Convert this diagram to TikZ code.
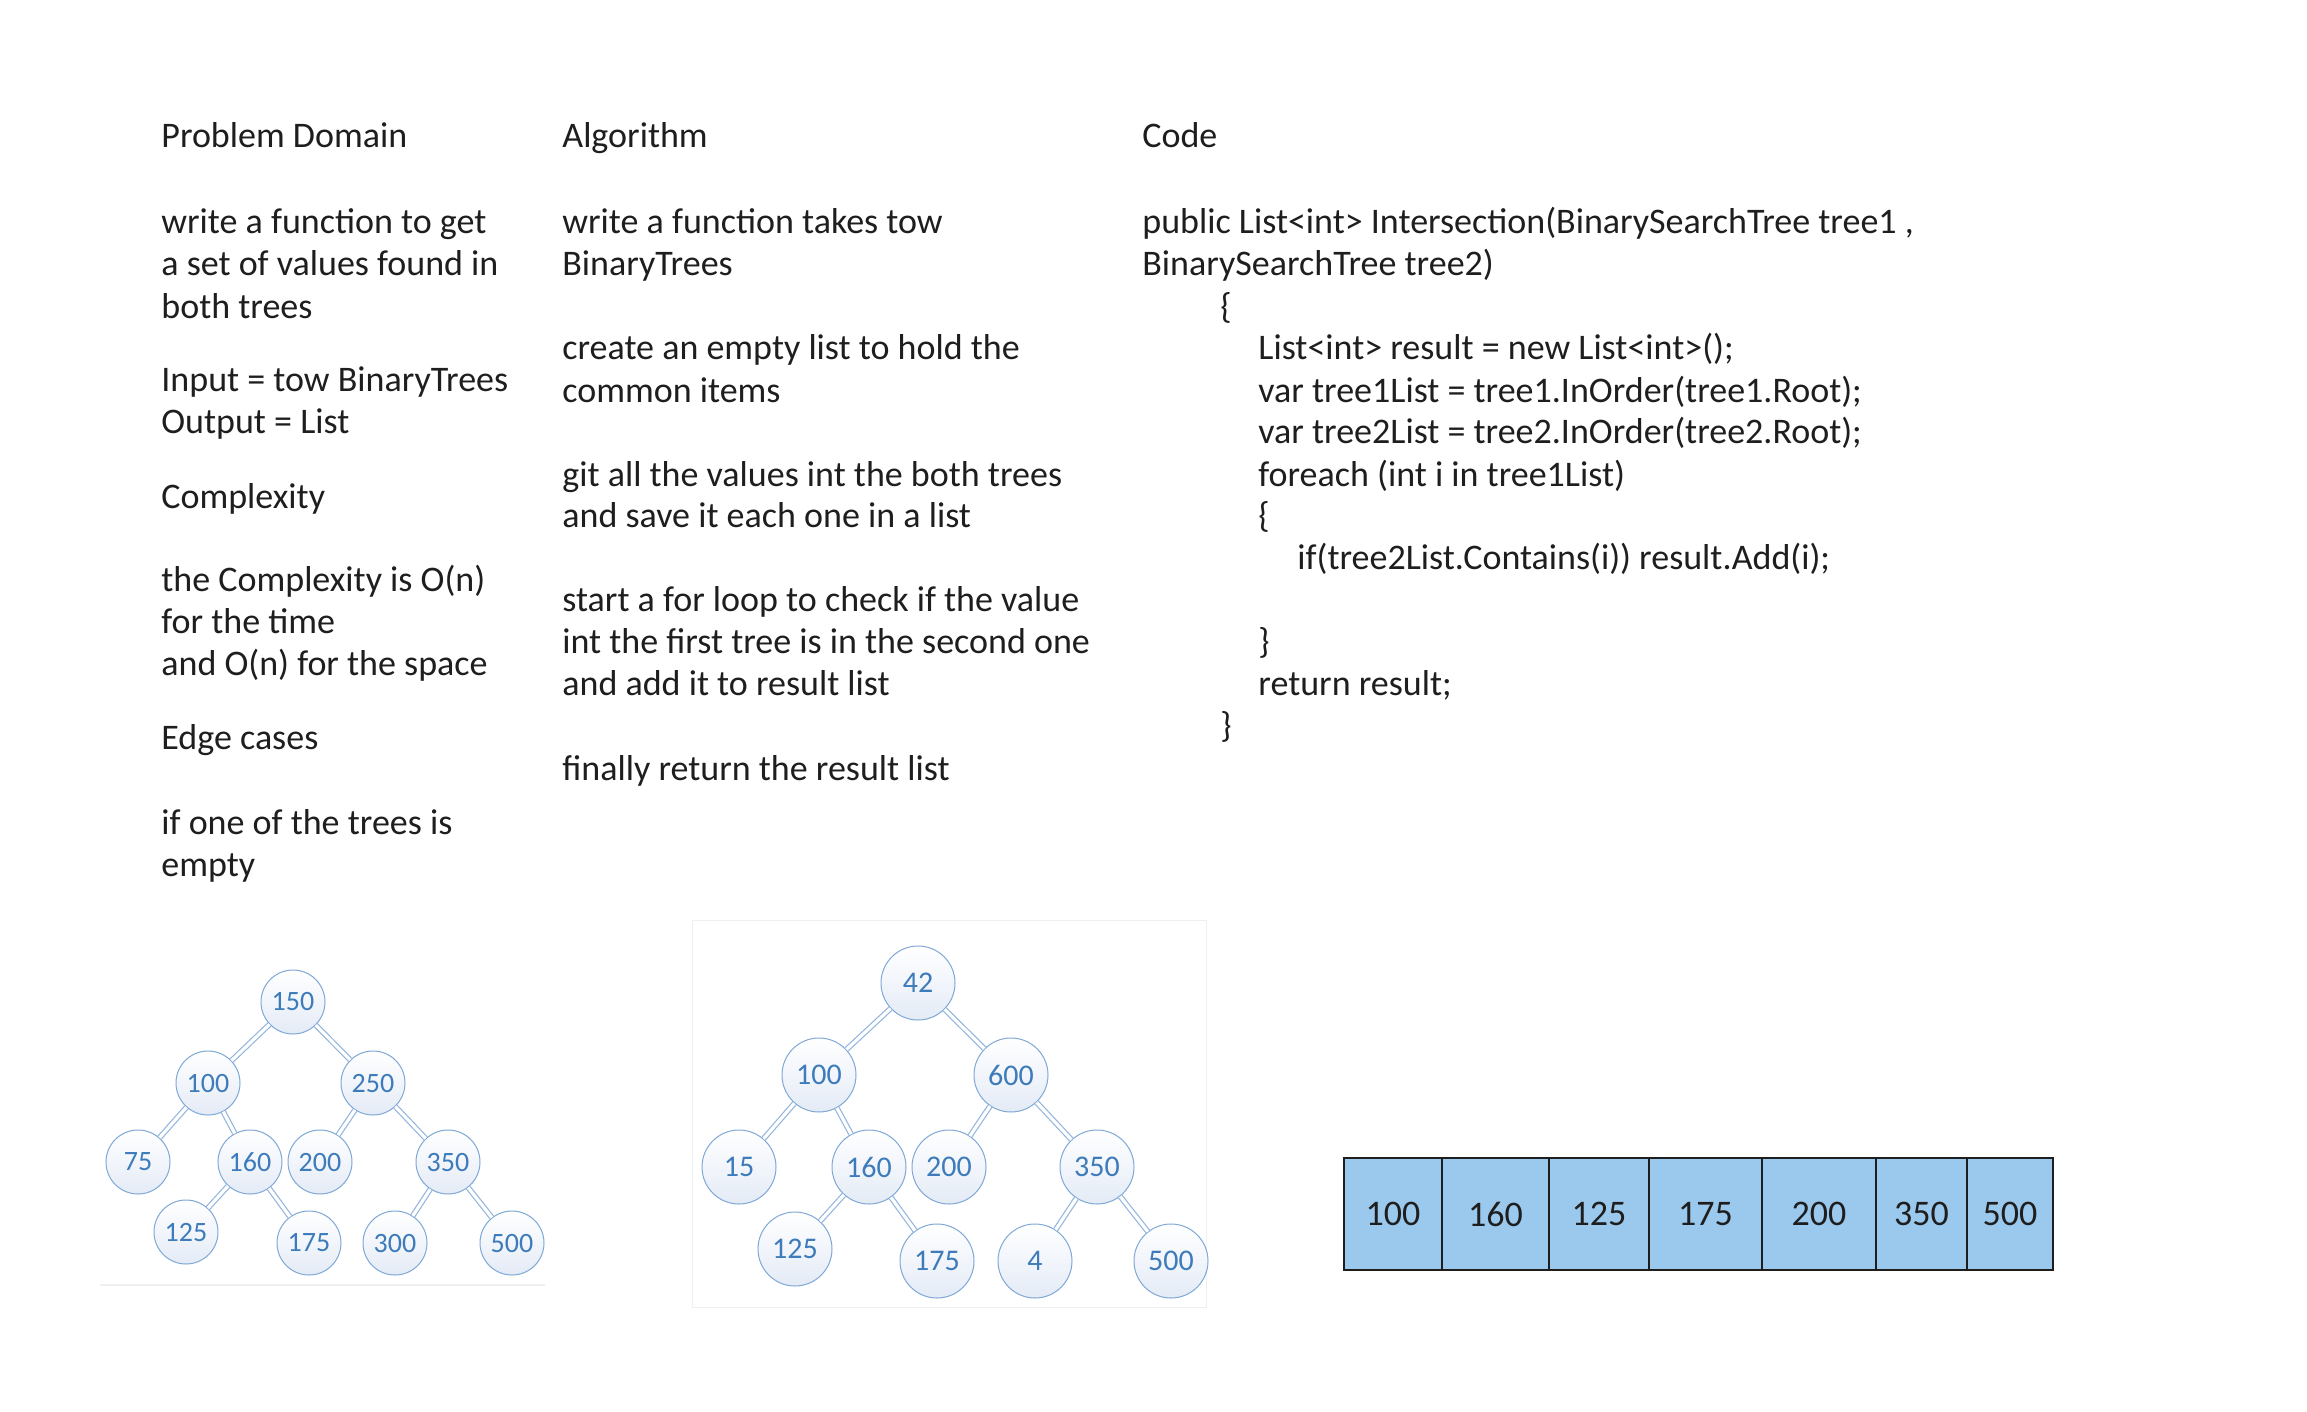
\documentclass[tikz,border=0pt]{standalone}
\usepackage{fontspec}
\setmainfont{Carlito}
\definecolor{nodeblue}{HTML}{3D7BBA}
\definecolor{ringblue}{HTML}{7FA8D6}
\definecolor{edgeblue}{HTML}{94B6DE}
\definecolor{shadeblue}{HTML}{E4EBF6}
\definecolor{cellblue}{HTML}{9BC9EE}
\definecolor{ink}{HTML}{1E1E1E}
\definecolor{faint}{HTML}{EFEFEF}
\begin{document}
\begin{tikzpicture}[x=0.5pt,y=-0.5pt,
  txt/.style={anchor=base west, inner sep=0pt, text=ink, font=\fontsize{18}{21}\selectfont},
  bnode/.style={circle, draw=ringblue, line width=0.5pt, top color=white, bottom color=shadeblue,
    text=nodeblue, inner sep=0pt, minimum size=32pt, font=\fontsize{14}{16}\selectfont},
  bnodeL/.style={bnode, minimum size=37pt, font=\fontsize{15}{17}\selectfont},
  bedge/.style={draw=edgeblue, line width=0.6pt, double=white, double distance=1.6pt},
  cell/.style={draw=ink, line width=1pt, fill=cellblue, inner sep=0pt, minimum height=56pt,
    text=ink, font=\fontsize{18}{20}\selectfont}]
\useasboundingbox[fill=white] (0,0) rectangle (2307,1412);

% ---------- Problem Domain column ----------
\node[txt] (p1)  at (161,148) {Problem Domain};
\node[txt] (p2)  at (161,234) {write a function to get};
\node[txt] (p3)  at (161,276) {a set of values found in};
\node[txt] (p4)  at (161,318) {both trees};
\node[txt] (p5)  at (161,391) {Input = tow BinaryTrees};
\node[txt] (p6)  at (161,433) {Output = List};
\node[txt] (p7)  at (161,508) {Complexity};
\node[txt] (p8)  at (161,591) {the Complexity is O(n)};
\node[txt] (p9)  at (161,633) {for the time};
\node[txt] (p10) at (161,675) {and O(n) for the space};
\node[txt] (p11) at (161,749) {Edge cases};
\node[txt] (p12) at (161,834) {if one of the trees is};
\node[txt] (p13) at (161,876) {empty};

% ---------- Algorithm column ----------
\node[txt] (a1)  at (562,148) {Algorithm};
\node[txt] (a2)  at (562,234) {write a function takes tow};
\node[txt] (a3)  at (562,276) {BinaryTrees};
\node[txt] (a4)  at (562,359) {create an empty list to hold the};
\node[txt] (a5)  at (562,402) {common items};
\node[txt] (a6)  at (562,486) {git all the values int the both trees};
\node[txt] (a7)  at (562,527) {and save it each one in a list};
\node[txt] (a8)  at (562,611) {start a for loop to check if the value};
\node[txt] (a9)  at (562,653) {int the first tree is in the second one};
\node[txt] (a10) at (562,695) {and add it to result list};
\node[txt] (a11) at (562,780) {finally return the result list};

% ---------- Code column ----------
\node[txt] (c1)  at (1142,148) {Code};
\node[txt] (c2)  at (1142,234) {public List<int> Intersection(BinarySearchTree tree1 ,};
\node[txt] (c3)  at (1142,276) {BinarySearchTree tree2)};
\node[txt] (c4)  at (1220,318) {\{};
\node[txt] (c5)  at (1258,359) {List<int> result = new List<int>();};
\node[txt] (c6)  at (1258,402) {var tree1List = tree1.InOrder(tree1.Root);};
\node[txt] (c7)  at (1258,443) {var tree2List = tree2.InOrder(tree2.Root);};
\node[txt] (c8)  at (1258,486) {foreach (int i in tree1List)};
\node[txt] (c9)  at (1258,527) {\{};
\node[txt] (c10) at (1297,569) {if(tree2List.Contains(i)) result.Add(i);};
\node[txt] (c11) at (1258,653) {\}};
\node[txt] (c12) at (1258,695) {return result;};
\node[txt] (c13) at (1220,737) {\}};

% ---------- Tree 1 ----------
\draw[faint, line width=0.6pt] (100,1285) -- (545,1285);
\node[bnode] (u150) at (293,1002) {150};
\node[bnode] (u100) at (208,1083) {100};
\node[bnode] (u250) at (373,1083) {250};
\node[bnode] (u75)  at (138,1162) {75};
\node[bnode] (u160) at (250,1162) {160};
\node[bnode] (u200) at (320,1162) {200};
\node[bnode] (u350) at (448,1162) {350};
\node[bnode] (u125) at (186,1232) {125};
\node[bnode] (u175) at (309,1243) {175};
\node[bnode] (u300) at (395,1243) {300};
\node[bnode] (u500) at (512,1243) {500};
\foreach \a/\b in {u150/u100,u150/u250,u100/u75,u100/u160,u250/u200,u250/u350,
                   u160/u125,u160/u175,u350/u300,u350/u500}
  \draw[bedge] (\a) -- (\b);

% ---------- Tree 2 ----------
\draw[faint, line width=0.5pt] (692,920) rectangle (1206,1307);
\node[bnodeL] (v42)  at (918,983)   {42};
\node[bnodeL] (v100) at (819,1075)  {100};
\node[bnodeL] (v600) at (1011,1075) {600};
\node[bnodeL] (v15)  at (739,1167)  {15};
\node[bnodeL] (v160) at (869,1167)  {160};
\node[bnodeL] (v200) at (949,1167)  {200};
\node[bnodeL] (v350) at (1097,1167) {350};
\node[bnodeL] (v125) at (795,1249)  {125};
\node[bnodeL] (v175) at (937,1261)  {175};
\node[bnodeL] (v4)   at (1035,1261) {4};
\node[bnodeL] (v500) at (1171,1261) {500};
\foreach \a/\b in {v42/v100,v42/v600,v100/v15,v100/v160,v600/v200,v600/v350,
                   v160/v125,v160/v175,v350/v4,v350/v500}
  \draw[bedge] (\a) -- (\b);

% ---------- Result array ----------
\node[cell, minimum width=49pt]   (r1) at (1393,1214)   {100};
\node[cell, minimum width=53.5pt] (r2) at (1495.5,1214) {160};
\node[cell, minimum width=50.5pt] (r3) at (1599,1214)   {125};
\node[cell, minimum width=56.5pt] (r4) at (1705.5,1214) {175};
\node[cell, minimum width=57.5pt] (r5) at (1819,1214)   {200};
\node[cell, minimum width=45.5pt] (r6) at (1921.5,1214) {350};
\node[cell, minimum width=43pt]   (r7) at (2010,1214)   {500};
\end{tikzpicture}
\end{document}
